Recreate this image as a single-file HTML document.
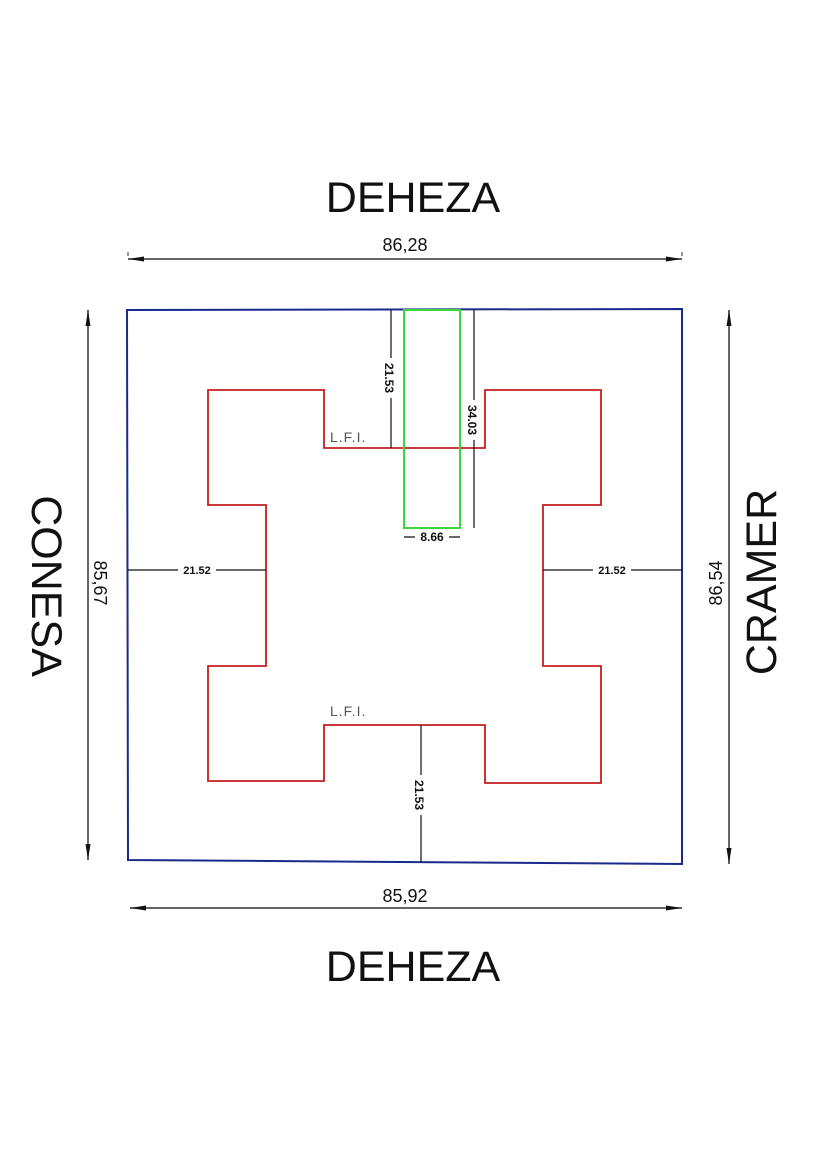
<!DOCTYPE html>
<html><head><meta charset="utf-8"><style>
html,body{margin:0;padding:0;background:#fff;}
svg{display:block;}
text{font-family:"Liberation Sans",Arial,sans-serif;}
</style></head><body>
<svg width="828" height="1170" viewBox="0 0 828 1170" xmlns="http://www.w3.org/2000/svg">
<defs>
<marker id="ar" markerWidth="16" markerHeight="6" refX="16" refY="3" orient="auto-start-reverse" markerUnits="userSpaceOnUse">
<path d="M16,3 L0,0.5 L0,5.5 Z" fill="#111"/>
</marker>
</defs>
<text x="413" y="212" font-size="43" text-anchor="middle" fill="#111">DEHEZA</text>
<text x="413" y="981" font-size="43" text-anchor="middle" fill="#111">DEHEZA</text>
<text transform="translate(32,586) rotate(90)" font-size="43" text-anchor="middle" fill="#111">CONESA</text>
<text transform="translate(776,582) rotate(-90)" font-size="43" text-anchor="middle" fill="#111">CRAMER</text>

<line x1="128" y1="259" x2="682" y2="259" stroke="#333" stroke-width="1.5" marker-start="url(#ar)" marker-end="url(#ar)"/>
<line x1="128" y1="252" x2="128" y2="256" stroke="#333"/><line x1="682" y1="252" x2="682" y2="256" stroke="#333"/>
<text x="405" y="251" font-size="18" text-anchor="middle" fill="#111">86,28</text>
<line x1="130" y1="908" x2="682" y2="908" stroke="#333" stroke-width="1.5" marker-start="url(#ar)" marker-end="url(#ar)"/>
<text x="405" y="902" font-size="18" text-anchor="middle" fill="#111">85,92</text>
<line x1="88" y1="310" x2="88" y2="860" stroke="#333" stroke-width="1.5" marker-start="url(#ar)" marker-end="url(#ar)"/>
<text transform="translate(94,583) rotate(90)" font-size="18" text-anchor="middle" fill="#111">85,67</text>
<line x1="729" y1="310" x2="729" y2="864" stroke="#333" stroke-width="1.5" marker-start="url(#ar)" marker-end="url(#ar)"/>
<text transform="translate(722,583) rotate(-90)" font-size="18" text-anchor="middle" fill="#111">86,54</text>

<polygon points="127,310 682,309 682,864 128,860" fill="none" stroke="#1a2a8c" stroke-width="2"/>

<polygon points="208,390 324,390 324,448 485,448 485,390 601,390 601,505 543,505 543,666 601,666 601,783 485,783 485,725 324,725 324,781 208,781 208,666 266,666 266,505 208,505" fill="none" stroke="#c41e1e" stroke-width="1.8"/>

<rect x="404" y="310" width="56" height="218" fill="none" stroke="#3ed63e" stroke-width="2"/>

<line x1="391" y1="310" x2="391" y2="448" stroke="#111" stroke-width="1.2"/>
<rect x="383" y="358" width="16" height="40" fill="#fff"/>
<text transform="translate(385,378) rotate(90)" font-size="12" text-anchor="middle" fill="#111" font-weight="bold">21.53</text>
<line x1="474" y1="310" x2="474" y2="528" stroke="#111" stroke-width="1.2"/>
<rect x="466" y="400" width="16" height="40" fill="#fff"/>
<text transform="translate(468,420) rotate(90)" font-size="12" text-anchor="middle" fill="#111" font-weight="bold">34.03</text>
<line x1="404" y1="537" x2="460" y2="537" stroke="#111" stroke-width="1.2"/>
<rect x="415" y="530" width="34" height="14" fill="#fff"/>
<text x="432" y="541" font-size="12" text-anchor="middle" fill="#111" font-weight="bold">8.66</text>
<line x1="128" y1="570" x2="266" y2="570" stroke="#111" stroke-width="1.2"/>
<rect x="178" y="563" width="38" height="14" fill="#fff"/>
<text x="197" y="574" font-size="11" text-anchor="middle" fill="#111" font-weight="bold">21.52</text>
<line x1="543" y1="570" x2="682" y2="570" stroke="#111" stroke-width="1.2"/>
<rect x="593" y="563" width="38" height="14" fill="#fff"/>
<text x="612" y="574" font-size="11" text-anchor="middle" fill="#111" font-weight="bold">21.52</text>
<line x1="421" y1="725" x2="421" y2="862" stroke="#111" stroke-width="1.2"/>
<rect x="413" y="775" width="16" height="40" fill="#fff"/>
<text transform="translate(415,795) rotate(90)" font-size="12" text-anchor="middle" fill="#111" font-weight="bold">21.53</text>

<text x="330" y="442" font-size="14" fill="#555" letter-spacing="1">L.F.I.</text>
<text x="330" y="716" font-size="14" fill="#555" letter-spacing="1">L.F.I.</text>
</svg>
</body></html>
